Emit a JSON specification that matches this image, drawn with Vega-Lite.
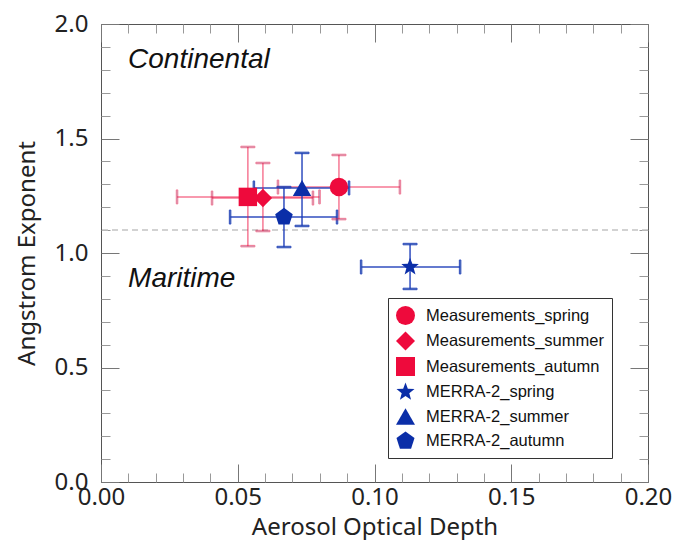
{
  "$schema": "https://vega.github.io/schema/vega-lite/v6.json",
  "width": 547,
  "height": 458,
  "autosize": {"type": "none"},
  "padding": {"left": 101, "top": 24, "right": 27, "bottom": 58},
  "background": "white",
  "config": {"view": {"stroke": "#555", "strokeWidth": 1}},
  "data": {"values": [
    {"series": "Measurements_spring", "src": "Measurements", "x": 0.0870, "y": 1.288, "xlo": 0.0647, "xhi": 0.1093, "ylo": 1.148, "yhi": 1.428},
    {"series": "Measurements_summer", "src": "Measurements", "x": 0.0592, "y": 1.240, "xlo": 0.0406, "xhi": 0.0775, "ylo": 1.096, "yhi": 1.393},
    {"series": "Measurements_autumn", "src": "Measurements", "x": 0.0537, "y": 1.245, "xlo": 0.0278, "xhi": 0.0799, "ylo": 1.030, "yhi": 1.463},
    {"series": "MERRA-2_spring", "src": "MERRA-2", "x": 0.1130, "y": 0.939, "xlo": 0.0951, "xhi": 0.1313, "ylo": 0.843, "yhi": 1.039},
    {"series": "MERRA-2_summer", "src": "MERRA-2", "x": 0.0735, "y": 1.284, "xlo": 0.0559, "xhi": 0.0907, "ylo": 1.118, "yhi": 1.437},
    {"series": "MERRA-2_autumn", "src": "MERRA-2", "x": 0.0669, "y": 1.157, "xlo": 0.0472, "xhi": 0.0863, "ylo": 1.026, "yhi": 1.288}
  ]},
  "resolve": {"axis": {"x": "independent", "y": "independent"}},
  "layer": [
    {
      "mark": {"type": "rule", "strokeDash": [6, 4], "color": "#c4c4c4", "strokeWidth": 1.5},
      "data": {"values": [{"v": 1.1}]},
      "encoding": {
        "y": {"field": "v", "type": "quantitative", "scale": {"domain": [0, 2], "nice": false}, "axis": null}
      }
    },
    {
      "mark": {"type": "rule", "strokeWidth": 1.5},
      "encoding": {
        "x": {"field": "xlo", "type": "quantitative", "scale": {"domain": [0, 0.2], "nice": false},
          "axis": {"orient": "bottom", "values": [0, 0.05, 0.1, 0.15, 0.2], "format": ".2f", "ticks": false, "domain": false, "grid": false,
            "labelFont": "Noto Sans", "labelFontSize": 24, "labelColor": "#222", "labelPadding": 3, "labelOverlap": false, "labelFlush": false,
            "title": "Aerosol Optical Depth", "titleFont": "Noto Sans", "titleFontSize": 24, "titleFontWeight": "normal", "titleColor": "#222", "titlePadding": 6}},
        "x2": {"field": "xhi"},
        "y": {"field": "y", "type": "quantitative", "scale": {"domain": [0, 2], "nice": false},
          "axis": {"orient": "left", "values": [0, 0.5, 1, 1.5, 2], "format": ".1f", "ticks": false, "domain": false, "grid": false,
            "labelFont": "Noto Sans", "labelFontSize": 24, "labelColor": "#222", "labelPadding": 13, "labelOverlap": false, "labelFlush": false,
            "title": "Angstrom Exponent", "titleFont": "Noto Sans", "titleFontSize": 24, "titleFontWeight": "normal", "titleColor": "#222", "titlePadding": 15}},
        "stroke": {"field": "src", "type": "nominal", "legend": null, "scale": {"domain": ["Measurements", "MERRA-2"], "range": ["#ee0a3c", "#1a3ab8"]}},
        "opacity": {"field": "src", "type": "nominal", "legend": null, "scale": {"domain": ["Measurements", "MERRA-2"], "range": [0.55, 0.9]}}
      }
    },
    {
      "mark": {"type": "rule", "strokeWidth": 1.5},
      "encoding": {
        "x": {"field": "x", "type": "quantitative", "scale": {"domain": [0, 0.2], "nice": false},
          "axis": {"orient": "bottom", "values": [0, 0.05, 0.1, 0.15, 0.2], "labels": false, "domain": false, "grid": false, "ticks": true, "tickSize": -18, "tickColor": "#777", "tickWidth": 1, "title": null}},
        "y": {"field": "ylo", "type": "quantitative", "scale": {"domain": [0, 2], "nice": false},
          "axis": {"orient": "left", "values": [0, 0.5, 1, 1.5, 2], "labels": false, "domain": false, "grid": false, "ticks": true, "tickSize": -18, "tickColor": "#777", "tickWidth": 1, "title": null}},
        "y2": {"field": "yhi"},
        "stroke": {"field": "src", "type": "nominal", "legend": null},
        "opacity": {"field": "src", "type": "nominal", "legend": null}
      }
    },
    {
      "mark": {"type": "tick", "orient": "vertical", "size": 14, "thickness": 1.5},
      "encoding": {
        "x": {"field": "xlo", "type": "quantitative", "scale": {"domain": [0, 0.2], "nice": false},
          "axis": {"orient": "bottom", "values": [0.01, 0.02, 0.03, 0.04, 0.06, 0.07, 0.08, 0.09, 0.11, 0.12, 0.13, 0.14, 0.16, 0.17, 0.18, 0.19], "labels": false, "domain": false, "grid": false, "ticks": true, "tickSize": -9, "tickColor": "#999", "tickWidth": 1, "title": null}},
        "y": {"field": "y", "type": "quantitative", "scale": {"domain": [0, 2], "nice": false},
          "axis": {"orient": "left", "values": [0.1, 0.2, 0.3, 0.4, 0.6, 0.7, 0.8, 0.9, 1.1, 1.2, 1.3, 1.4, 1.6, 1.7, 1.8, 1.9], "labels": false, "domain": false, "grid": false, "ticks": true, "tickSize": -9, "tickColor": "#999", "tickWidth": 1, "title": null}},
        "stroke": {"field": "src", "type": "nominal", "legend": null},
        "opacity": {"field": "src", "type": "nominal", "legend": null}
      }
    },
    {
      "mark": {"type": "tick", "orient": "vertical", "size": 14, "thickness": 1.5},
      "encoding": {
        "x": {"field": "xhi", "type": "quantitative", "scale": {"domain": [0, 0.2], "nice": false},
          "axis": {"orient": "top", "values": [0, 0.05, 0.1, 0.15, 0.2], "labels": false, "domain": false, "grid": false, "ticks": true, "tickSize": -18, "tickColor": "#777", "tickWidth": 1, "title": null}},
        "y": {"field": "y", "type": "quantitative", "scale": {"domain": [0, 2], "nice": false},
          "axis": {"orient": "right", "values": [0, 0.5, 1, 1.5, 2], "labels": false, "domain": false, "grid": false, "ticks": true, "tickSize": -18, "tickColor": "#777", "tickWidth": 1, "title": null}},
        "stroke": {"field": "src", "type": "nominal", "legend": null},
        "opacity": {"field": "src", "type": "nominal", "legend": null}
      }
    },
    {
      "mark": {"type": "tick", "orient": "horizontal", "size": 14, "thickness": 1.5},
      "encoding": {
        "x": {"field": "x", "type": "quantitative", "scale": {"domain": [0, 0.2], "nice": false},
          "axis": {"orient": "top", "values": [0.01, 0.02, 0.03, 0.04, 0.06, 0.07, 0.08, 0.09, 0.11, 0.12, 0.13, 0.14, 0.16, 0.17, 0.18, 0.19], "labels": false, "domain": false, "grid": false, "ticks": true, "tickSize": -9, "tickColor": "#999", "tickWidth": 1, "title": null}},
        "y": {"field": "ylo", "type": "quantitative", "scale": {"domain": [0, 2], "nice": false},
          "axis": {"orient": "right", "values": [0.1, 0.2, 0.3, 0.4, 0.6, 0.7, 0.8, 0.9, 1.1, 1.2, 1.3, 1.4, 1.6, 1.7, 1.8, 1.9], "labels": false, "domain": false, "grid": false, "ticks": true, "tickSize": -9, "tickColor": "#999", "tickWidth": 1, "title": null}},
        "stroke": {"field": "src", "type": "nominal", "legend": null},
        "opacity": {"field": "src", "type": "nominal", "legend": null}
      }
    },
    {
      "mark": {"type": "tick", "orient": "horizontal", "size": 14, "thickness": 1.5},
      "encoding": {
        "x": {"field": "x", "type": "quantitative", "scale": {"domain": [0, 0.2], "nice": false}, "axis": null},
        "y": {"field": "yhi", "type": "quantitative", "scale": {"domain": [0, 2], "nice": false}, "axis": null},
        "stroke": {"field": "src", "type": "nominal", "legend": null},
        "opacity": {"field": "src", "type": "nominal", "legend": null}
      }
    },
    {
      "mark": {"type": "point", "filled": true, "size": 340, "opacity": 1, "strokeWidth": 0},
      "encoding": {
        "x": {"field": "x", "type": "quantitative", "scale": {"domain": [0, 0.2], "nice": false}, "axis": null},
        "y": {"field": "y", "type": "quantitative", "scale": {"domain": [0, 2], "nice": false}, "axis": null},
        "color": {"field": "series", "type": "nominal",
          "scale": {"domain": ["Measurements_spring", "Measurements_summer", "Measurements_autumn", "MERRA-2_spring", "MERRA-2_summer", "MERRA-2_autumn"],
            "range": ["#ee0a3c", "#ee0a3c", "#ee0a3c", "#0b2ea8", "#0b2ea8", "#0b2ea8"]},
          "legend": {"orient": "none", "legendX": 287, "legendY": 274, "title": null, "strokeColor": "#333", "fillColor": "white", "padding": 8,
            "symbolSize": 360, "symbolStrokeWidth": 0, "labelFont": "Liberation Sans", "labelFontSize": 16.5, "labelColor": "#111", "labelOffset": 11, "rowPadding": 6.5, "labelLimit": 400,
            "encode": {"legend": {"update": {"width": {"value": 224}}}}}},
        "shape": {"field": "series", "type": "nominal",
          "scale": {"domain": ["Measurements_spring", "Measurements_summer", "Measurements_autumn", "MERRA-2_spring", "MERRA-2_summer", "MERRA-2_autumn"],
            "range": ["circle", "diamond", "square",
              "M0,-1L0.247,-0.34L0.951,-0.309L0.399,0.13L0.588,0.809L0,0.42L-0.588,0.809L-0.399,0.13L-0.951,-0.309L-0.247,-0.34Z",
              "triangle-up",
              "M0,-1L0.951,-0.309L0.588,0.809L-0.588,0.809L-0.951,-0.309Z"]},
          "legend": {"orient": "none", "legendX": 287, "legendY": 274, "title": null, "strokeColor": "#333", "fillColor": "white", "padding": 8,
            "symbolSize": 360, "symbolStrokeWidth": 0, "labelFont": "Liberation Sans", "labelFontSize": 16.5, "labelColor": "#111", "labelOffset": 11, "rowPadding": 6.5, "labelLimit": 400,
            "encode": {"legend": {"update": {"width": {"value": 224}}}}}}
      }
    },
    {
      "mark": {"type": "text", "font": "Liberation Sans", "fontSize": 28, "fontStyle": "italic", "align": "left", "baseline": "alphabetic", "color": "#111"},
      "data": {"values": [
        {"label": "Continental", "tx": 0.0099, "ty": 1.808},
        {"label": "Maritime", "tx": 0.0099, "ty": 0.852}
      ]},
      "encoding": {
        "x": {"field": "tx", "type": "quantitative", "scale": {"domain": [0, 0.2], "nice": false}, "axis": null},
        "y": {"field": "ty", "type": "quantitative", "scale": {"domain": [0, 2], "nice": false}, "axis": null},
        "text": {"field": "label"}
      }
    }
  ]
}
